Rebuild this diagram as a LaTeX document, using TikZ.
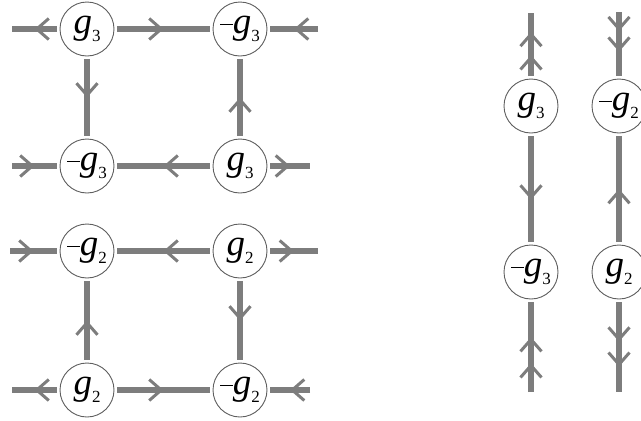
\documentclass[tikz,border=0pt]{standalone}
\usepackage{fontspec}
\setmainfont{Liberation Serif}
\usetikzlibrary{arrows.meta,decorations.markings}
\definecolor{edgegray}{RGB}{125,125,125}
\definecolor{ringgray}{RGB}{95,95,95}
\newcommand{\glab}[1]{{\itshape g}\raisebox{-0.2em}{\fontsize{17}{17}\selectfont #1}}
\newcommand{\mglab}[1]{\rule[0.24em]{0.34em}{0.035em}\glab{#1}}
\tikzset{
  vert/.style={circle, draw=ringgray, line width=0.9pt, minimum size=54pt, inner sep=0pt,
    outer sep=3pt, font=\fontsize{37}{37}\selectfont, fill=white},
  chev/.tip={Straight Barb[length=12pt,width=21pt,line width=3pt]},
  wire/.style={color=edgegray, line width=5.5pt, postaction={decorate},
    decoration={markings, mark=at position #1 with {\arrow{chev}}}},
  wire/.default=0.5,
  wiretwo/.style 2 args={color=edgegray, line width=5.5pt, postaction={decorate},
    decoration={markings, mark=at position #1 with {\arrow{chev}},
                          mark=at position #2 with {\arrow{chev}}}}
}
\begin{document}
\begin{tikzpicture}[x=1pt,y=-1pt]
\useasboundingbox (0,0) rectangle (641,421);
% left lattice nodes
\node[vert] (a1) at (87,29) {\glab{3}};
\node[vert] (b1) at (240,29) {\mglab{3}};
\node[vert] (a2) at (87,166) {\mglab{3}};
\node[vert] (b2) at (240,166) {\glab{3}};
\node[vert] (a3) at (87,251) {\mglab{2}};
\node[vert] (b3) at (240,251) {\glab{2}};
\node[vert] (a4) at (87,390) {\glab{2}};
\node[vert] (b4) at (240,390) {\mglab{2}};
% right columns
\node[vert] (c1) at (531,106) {\glab{3}};
\node[vert] (c2) at (531,272) {\mglab{3}};
\node[vert] (d1) at (619,106) {\mglab{2}};
\node[vert] (d2) at (619,272) {\glab{2}};
% free ends
\coordinate (la1) at (12,29);  \coordinate (ra1) at (318,29);
\coordinate (la2) at (12,166); \coordinate (ra2) at (310,166);
\coordinate (la3) at (10,251); \coordinate (ra3) at (318,251);
\coordinate (la4) at (12,390); \coordinate (ra4) at (310,390);
\coordinate (tc) at (531,13);  \coordinate (bc) at (531,392);
\coordinate (td) at (619,12);  \coordinate (bd) at (619,392);
% row 1
\draw[wire] (a1) -- (la1);
\draw[wire] (a1) -- (b1);
\draw[wire] (ra1) -- (b1);
\draw[wire] (a1) -- (a2);
\draw[wire] (b2) -- (b1);
% row 2
\draw[wire] (la2) -- (a2);
\draw[wire] (b2) -- (a2);
\draw[wire] (b2) -- (ra2);
% row 3
\draw[wire] (la3) -- (a3);
\draw[wire] (b3) -- (a3);
\draw[wire] (b3) -- (ra3);
\draw[wire] (a4) -- (a3);
\draw[wire] (b3) -- (b4);
% row 4
\draw[wire] (a4) -- (la4);
\draw[wire] (a4) -- (b4);
\draw[wire] (ra4) -- (b4);
% right columns
\draw[wiretwo={0.33}{0.7}] (c1) -- (tc);
\draw[wire=0.6] (c1) -- (c2);
\draw[wiretwo={0.32}{0.61}] (bc) -- (c2);
\draw[wiretwo={0.3}{0.62}] (td) -- (d1);
\draw[wire=0.5] (d2) -- (d1);
\draw[wiretwo={0.44}{0.72}] (d2) -- (bd);
\end{tikzpicture}
\end{document}
